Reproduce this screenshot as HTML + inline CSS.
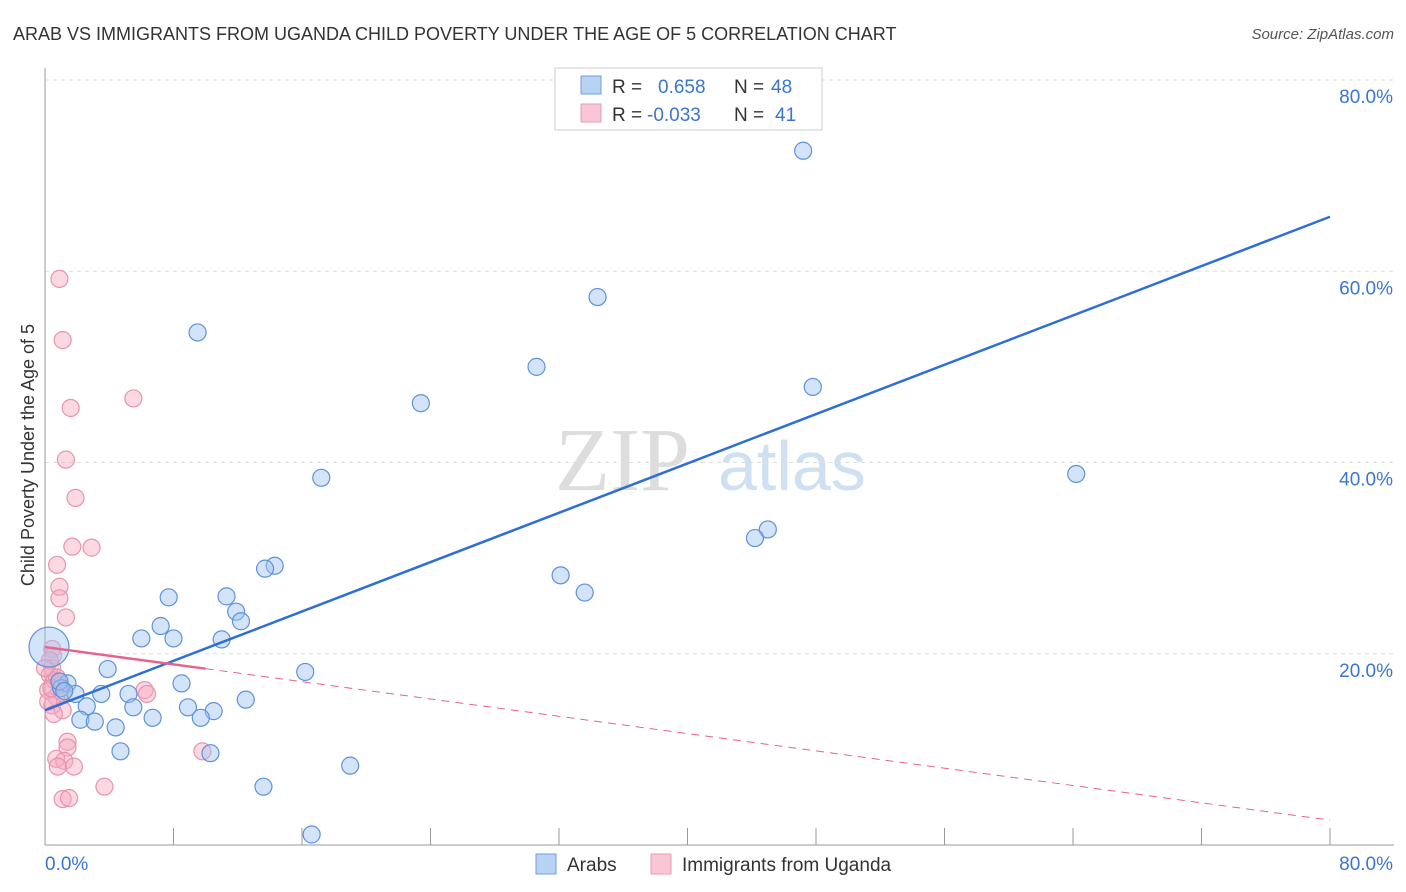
<!DOCTYPE html>
<html><head><meta charset="utf-8"><style>
body{margin:0;background:#fff;font-family:"Liberation Sans",sans-serif;}
svg{display:block}
</style></head><body>
<svg id="chart" width="1406" height="892">
<text x="13" y="40" font-size="18" fill="#333">ARAB VS IMMIGRANTS FROM UGANDA CHILD POVERTY UNDER THE AGE OF 5 CORRELATION CHART</text>
<text x="1394" y="39" font-size="15" fill="#555" font-style="italic" text-anchor="end">Source: ZipAtlas.com</text>
<g><text x="555" y="490" font-size="90" font-family="Liberation Serif,serif" fill="#ddd">ZIP</text><text x="718" y="490" font-size="70" fill="#cfe0f3">atlas</text></g>
<g id="grid"></g><g id="axes"></g><g id="pts"></g><g id="trend"></g>
<text transform="translate(34,455) rotate(-90)" font-size="18" fill="#333" text-anchor="middle">Child Poverty Under the Age of 5</text>
<g>
<rect x="555" y="68" width="267" height="62" fill="#fff" stroke="#ccc"/>
<rect x="581" y="76" width="20" height="18" fill="#b8d2f3" stroke="#6f9ede"/>
<rect x="581" y="104" width="20" height="18" fill="#f8c6d4" stroke="#eb9ab3"/>
<text x="612" y="93" font-size="19" fill="#333">R = <tspan fill="#3a76d0" x="658">0.658</tspan><tspan x="734" fill="#333">N = </tspan><tspan fill="#3a76d0" x="771">48</tspan></text>
<text x="612" y="121" font-size="19" fill="#333">R = <tspan fill="#3a76d0" x="647">-0.033</tspan><tspan x="734" fill="#333">N = </tspan><tspan fill="#3a76d0" x="775">41</tspan></text>
</g>
<g>
<rect x="536" y="854" width="20" height="20" fill="#b8d2f3" stroke="#6f9ede"/>
<text x="567" y="871" font-size="19" fill="#333">Arabs</text>
<rect x="651" y="854" width="20" height="20" fill="#f8c6d4" stroke="#eb9ab3"/>
<text x="682" y="871" font-size="19" fill="#333">Immigrants from Uganda</text>
</g>
</svg>
<script>
const yTicks=[20,40,60,80];
const xTicks=[0,10,20,30,40,50,60,70,80];
const xLabels=["0.0%","80.0%"];
const arabX=[47.2,34.4,9.5,30.6,47.8,23.4,17.2,64.2,45.0,44.2,14.3,13.7,32.1,33.6,7.7,11.3,11.9,12.2,7.2,6.0,8.0,11.0,16.2,3.9,8.5,1.4,1.0,1.9,3.5,5.2,12.5,2.6,8.9,5.5,10.5,6.7,9.7,2.2,3.1,4.4,4.7,10.3,19.0,13.6,16.6,0.25,0.9,1.2];
const arabY=[72.6,57.3,53.6,50.0,47.9,46.2,38.4,38.8,33.0,32.1,29.2,28.9,28.2,26.4,25.9,26.0,24.4,23.4,22.9,21.6,21.6,21.5,18.1,18.4,16.9,16.9,16.4,15.8,15.8,15.8,15.2,14.5,14.4,14.4,14.0,13.3,13.3,13.1,12.9,12.3,9.8,9.6,8.3,6.1,1.1,20.7,17.1,16.1];
const ugX=[0.9,1.1,1.6,5.5,1.3,1.9,1.7,2.9,0.75,0.9,0.9,1.3,0.45,0.5,0.45,0.3,0.6,0.9,0.2,0.7,0.45,1.1,0.55,6.2,6.35,9.8,1.4,1.4,0.7,1.2,0.8,1.8,3.7,1.1,1.5,0.3,0.2,0.75,1.1,0.0,0.4];
const ugY=[59.2,52.8,45.7,46.7,40.3,36.3,31.2,31.1,29.3,27.0,25.8,23.8,20.5,19.8,18.5,17.8,17.2,16.7,16.2,15.5,14.6,14.1,13.7,16.2,15.8,9.8,10.8,10.2,9.0,8.8,8.2,8.2,6.1,4.8,4.9,19.3,15.0,17.5,15.9,18.5,16.4];
const blueTrend=[14.1,65.7];
const pinkTrend=[20.7,2.6];
const X=v=>45+v*(1330-45)/80, Y=v=>845-v*(845-80)/80;
const NS="http://www.w3.org/2000/svg";
function mk(t,a,p){const e=document.createElementNS(NS,t);for(const k in a)e.setAttribute(k,a[k]);p.appendChild(e);return e;}
const grid=document.getElementById('grid'),axes=document.getElementById('axes'),pts=document.getElementById('pts'),tr=document.getElementById('trend');
yTicks.forEach(v=>{
 const l=mk('line',{x1:45,x2:1394,y1:Y(v),y2:Y(v),stroke:'#ddd','stroke-dasharray':'4,4'},grid);
 
 
 const t=mk('text',{x:1393,y:Y(v)+23,'font-size':19,fill:'#3a76d0','text-anchor':'end'},grid);
 t.textContent=v.toFixed(1)+'%';
 
 
});
const ax=mk('line',{x1:45,x2:45,y1:68,y2:845,stroke:'#999'},axes);


const bx=mk('line',{x1:45,x2:1394,y1:845,y2:845,stroke:'#999'},axes);


for(let v=0;v<=80;v+=8){
 const t=mk('line',{x1:X(v),x2:X(v),y1:828,y2:845,stroke:'#999'},axes);
 
 
}
[[0,'start',45],[80,'end',1393]].forEach((d,i)=>{
 const t=mk('text',{x:d[2],y:870,'font-size':19,fill:'#3a76d0','text-anchor':d[1]},axes);
 t.textContent=xLabels[i];
 
 
});
ugX.forEach((x,i)=>{
 const c=mk('circle',{cx:X(x),cy:Y(ugY[i]),r:8.5,fill:'rgba(244,170,192,0.45)',stroke:'#ea93ad','stroke-width':1.2},pts);
 
 
});
arabX.forEach((x,i)=>{
 const c=mk('circle',{cx:X(x),cy:Y(arabY[i]),r:i==45?20:8.5,fill:'rgba(160,196,240,0.45)',stroke:'#5e92d9','stroke-width':1.2},pts);
 
 
});
const bl=mk('line',{x1:X(0),y1:Y(blueTrend[0]),x2:X(80),y2:Y(blueTrend[1]),stroke:'#2e6fd6','stroke-width':2.5},tr);


const pk=v=>pinkTrend[0]+(pinkTrend[1]-pinkTrend[0])*v/80;
const ps=mk('line',{x1:X(0),y1:Y(pk(0)),x2:X(10),y2:Y(pk(10)),stroke:'#e8628e','stroke-width':2.5},tr);


const pd=mk('line',{x1:X(10),y1:Y(pk(10)),x2:X(80),y2:Y(pk(80)),stroke:'#e8628e','stroke-width':1,'stroke-dasharray':'8,6'},tr);


</script>
</body></html>
